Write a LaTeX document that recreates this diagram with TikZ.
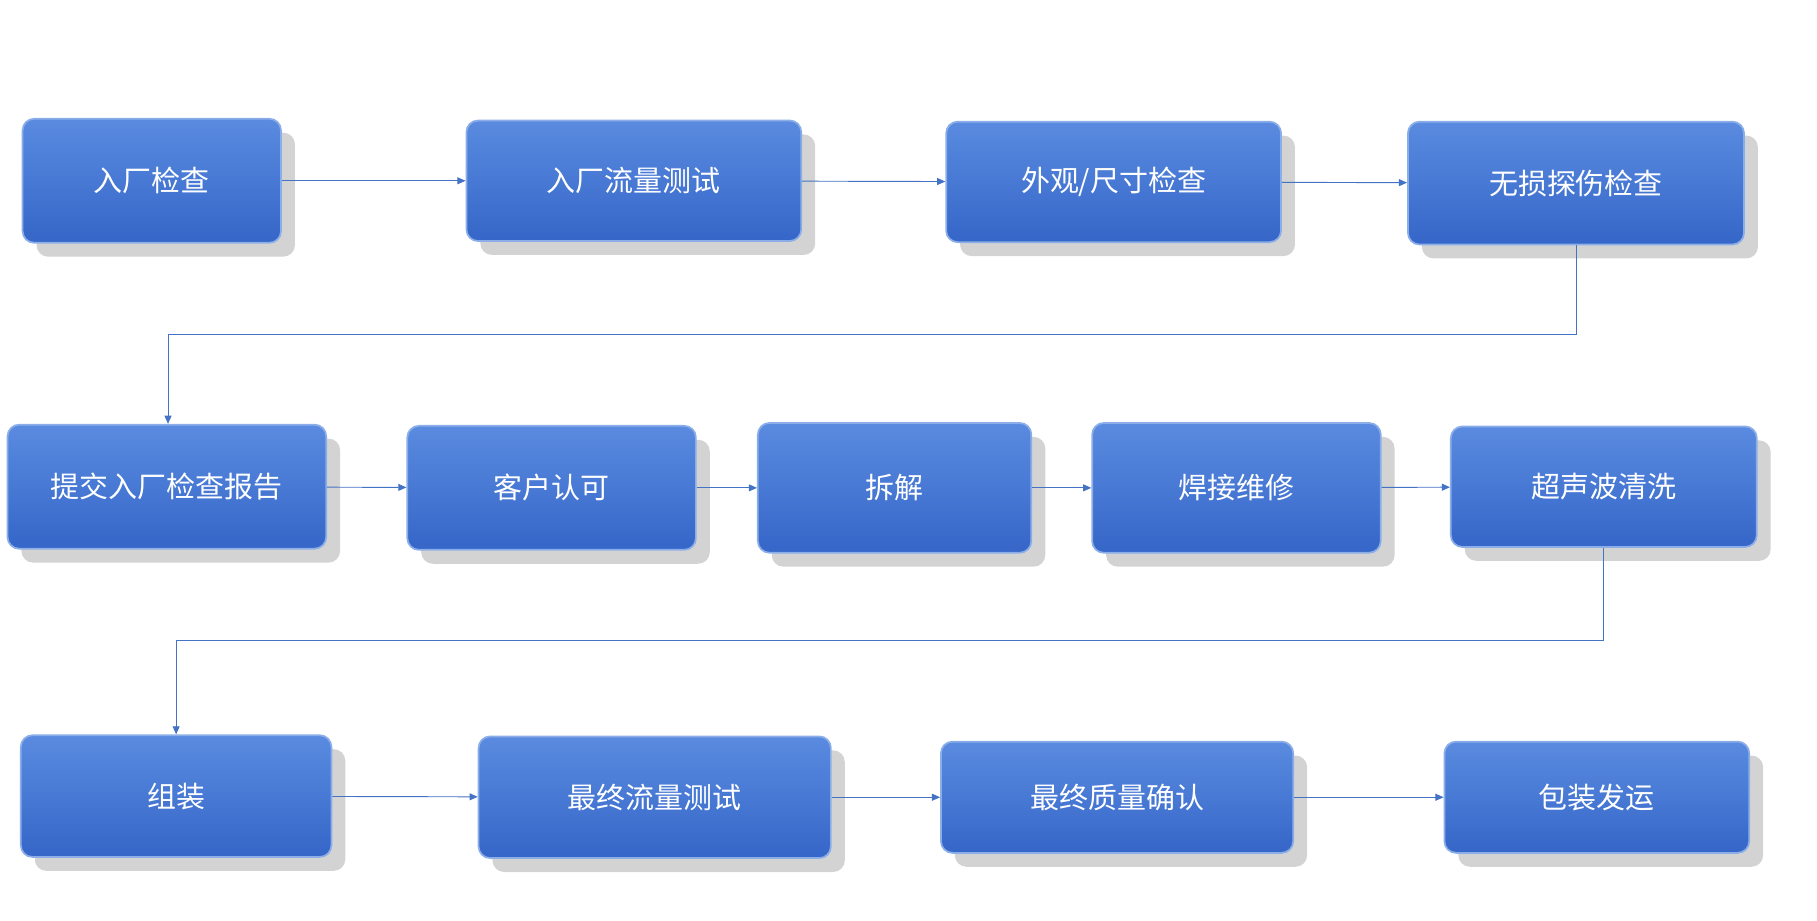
\documentclass[tikz,border=0pt]{standalone}
\usepackage{fontspec}
\newfontfamily\cjk{Noto Sans CJK SC}
\usetikzlibrary{shadows,arrows.meta}
\definecolor{boxtop}{HTML}{5A8BE0}
\definecolor{boxbot}{HTML}{3566C8}
\definecolor{linkblue}{HTML}{4472C4}
\begin{document}
\begin{tikzpicture}
  [
    x=1pt, y=-1pt,
    >={Triangle[length=7pt,width=6pt]},
    stepbox/.style = {rounded corners=10pt, top color=boxtop, bottom color=boxbot,
                      draw=boxtop!70!white, line width=1.5pt, text=white,
                      font=\cjk\fontsize{25}{30}\selectfont, inner sep=0pt,
                      drop shadow={shadow xshift=12pt, shadow yshift=-12pt, opacity=.35, fill=gray}},
    link/.style  = {draw=linkblue, line width=0.8pt, ->},
  ]

%Bounding box of the page
\useasboundingbox (0,0) rectangle (1568,794);

%Row heights
\def \ra{156}
\def \rb{420}
\def \rc{687}

%First row
\node[stepbox, minimum width=223, minimum height=107] (in)   at (131,\ra) {入厂检查};
\node[stepbox, minimum width=289, minimum height=104] (flow) at (547,\ra) {入厂流量测试};
\node[stepbox, minimum width=289, minimum height=104] (look) at (961,\ra+1) {外观/尺寸检查};
\node[stepbox, minimum width=290, minimum height=106] (ndt)  at (1360,\ra+2) {无损探伤检查};

%Second row
\node[stepbox, minimum width=275, minimum height=107] (rep)  at (144,\rb) {提交入厂检查报告};
\node[stepbox, minimum width=249, minimum height=107] (ok)   at (476,\rb+1) {客户认可};
\node[stepbox, minimum width=236, minimum height=112] (dis)  at (772,\rb+1) {拆解};
\node[stepbox, minimum width=249, minimum height=112] (weld) at (1067,\rb+1) {焊接维修};
\node[stepbox, minimum width=264, minimum height=104] (us)   at (1384,\rb) {超声波清洗};

%Third row
\node[stepbox, minimum width=268, minimum height=105] (asm)  at (152,\rc) {组装};
\node[stepbox, minimum width=304, minimum height=105] (fin)  at (565,\rc+1) {最终流量测试};
\node[stepbox, minimum width=304, minimum height=96]  (qc)   at (964,\rc+1) {最终质量确认};
\node[stepbox, minimum width=263, minimum height=96]  (pack) at (1378,\rc+1) {包装发运};

%Arrows along the rows
\draw[link] (in) -- (flow);
\draw[link] (flow) -- (look);
\draw[link] (look) -- (ndt);
\draw[link] (rep) -- (ok);
\draw[link] (ok) -- (dis);
\draw[link] (dis) -- (weld);
\draw[link] (weld) -- (us);
\draw[link] (asm) -- (fin);
\draw[link] (fin) -- (qc);
\draw[link] (qc) -- (pack);

%Returns to the next row
\draw[link] (ndt.south) |- (145,289) -- (rep.north -| 145,0);
\draw[link] (us.south) |- (152,553) -- (asm.north);
\end{tikzpicture}
\end{document}
